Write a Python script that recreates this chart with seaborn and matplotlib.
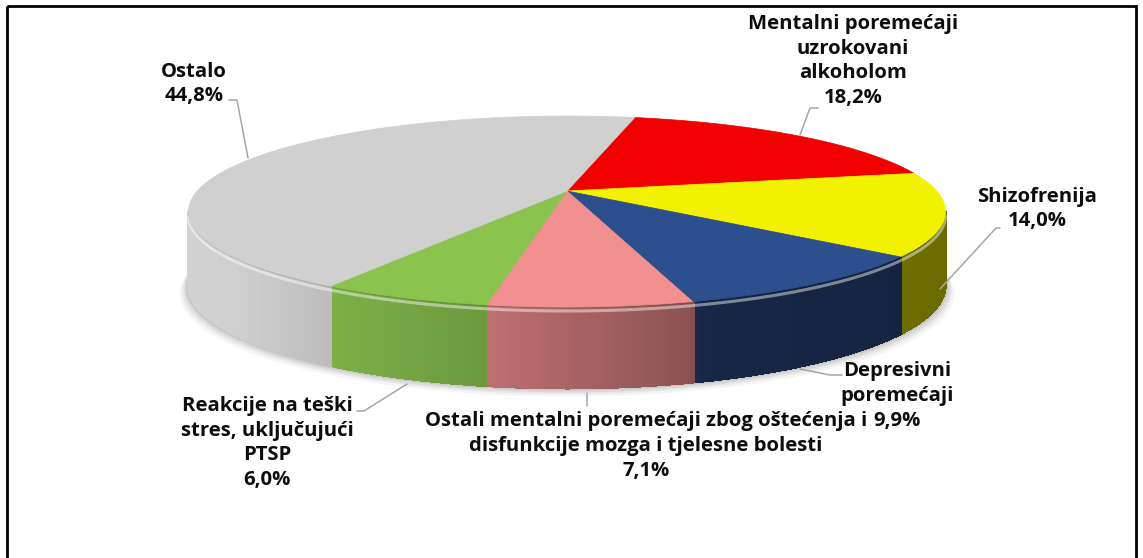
import numpy as np
import matplotlib
matplotlib.use("Agg")
import matplotlib.pyplot as plt
from matplotlib.collections import PolyCollection
from matplotlib.patches import Polygon, Rectangle
import seaborn as sns

# data: slices listed clockwise, starting at the red one
categories = [
    "Mentalni poremećaji\nuzrokovani\nalkoholom",
    "Shizofrenija",
    "Depresivni\nporemećaji",
    "Ostali mentalni poremećaji zbog oštećenja i\ndisfunkcije mozga i tjelesne bolesti",
    "Reakcije na teški\nstres, uključujući\nPTSP",
    "Ostalo",
]
shares = [18.2, 14.0, 9.9, 7.1, 6.0, 44.8]
pct_labels = ["18,2%", "14,0%", "9,9%", "7,1%", "6,0%", "44,8%"]
colors = ["#f20000", "#f2f200", "#2d4f8e", "#f28f8f", "#8bc34f", "#d0d0d0"]

# label placement (pixel coords of the figure) and leader lines
label_pos = [(853, 61), (1037, 209), (897, 396), (646, 446), (267, 443), (194, 84)]
leaders = [
    [(818, 108), (810, 108), (800, 135)],
    [(1000, 228), (996, 228), (940, 289)],
    [(842, 375), (830, 375), (800, 369)],
    [(587, 406), (587, 393)],
    [(357, 411), (364, 411), (407, 384)],
    [(229, 100), (237, 100), (248, 158)],
]

sns.set_theme(style="white")
plt.rcParams["font.family"] = ["Open Sans", "DejaVu Sans"]

W, H = 1143, 558
fig = plt.figure(figsize=(W / 100, H / 100), dpi=100)
ax = fig.add_axes([0, 0, 1, 1])
ax.set_xlim(0, W)
ax.set_ylim(H, 0)
ax.axis("off")

# perspective pie geometry
CX, CY = 567, 191
A, B, K = 369.7, 91.1, 0.2147
DEPTH = 72
START = 12.8


def rim(phi, bottom=False):
    phi = np.radians(phi)
    u, v = np.sin(phi), np.cos(phi)
    w = 1 + K * v
    x = CX + A * u / w
    y = CY - B * v / w
    if bottom:
        y = y + DEPTH / np.sqrt(w)
    return x, y


bounds = START + 360 * np.concatenate([[0], np.cumsum(shares)]) / sum(shares)


def slice_of(phi):
    p = (phi - START) % 360 + START
    return int(np.clip(np.searchsorted(bounds, p) - 1, 0, len(shares) - 1))


# soft shadow under the pie
phis = np.linspace(0, 360, 361)
for off, alpha in [(14, 0.04), (10, 0.05), (7, 0.06), (4, 0.08)]:
    bx, by = rim(phis, bottom=True)
    sx = CX + (bx - CX) * (1 + off / 600)
    ax.add_patch(Polygon(np.c_[sx, by + off * 0.6], closed=True,
                         facecolor="black", edgecolor="none", alpha=alpha, zorder=1))

# side wall, drawn as thin strips with left-to-right shading
sil = np.degrees(np.arctan2(np.sqrt(1 - K ** 2), -K))
wall_phis = np.linspace(sil, 360 - sil, 320)
shade_x = [188, 333, 487, 687, 700, 945]
shade_f = [1.04, 0.9, 0.78, 0.58, 0.5, 0.44]
strips, strip_cols = [], []
for p1, p2 in zip(wall_phis[:-1], wall_phis[1:]):
    x1, y1 = rim(p1)
    x2, y2 = rim(p2)
    x1b, y1b = rim(p1, True)
    x2b, y2b = rim(p2, True)
    strips.append([(x1, y1), (x2, y2), (x2b, y2b), (x1b, y1b)])
    base = np.array(matplotlib.colors.to_rgb(colors[slice_of((p1 + p2) / 2)]))
    f = np.interp((x1 + x2) / 2, shade_x, shade_f)
    c = base * f if f <= 1 else base + (1 - base) * (f - 1)
    strip_cols.append(np.clip(c, 0, 1))
ax.add_collection(PolyCollection(strips, facecolors=strip_cols, edgecolors=strip_cols,
                                 linewidths=1.0, antialiaseds=False, zorder=2))

# bevel highlight along the front rim
hx, hy = rim(wall_phis)
ax.plot(hx, hy + 4, color="white", lw=2.2, alpha=0.45, zorder=3, solid_capstyle="butt")
ax.plot(hx, hy + 1, color="black", lw=1.2, alpha=0.08, zorder=3)

# top surface
for i, share in enumerate(shares):
    arc = np.linspace(bounds[i], bounds[i + 1], 120)
    ax_, ay_ = rim(arc)
    pts = np.vstack([[CX, CY], np.c_[ax_, ay_]])
    ax.add_patch(Polygon(pts, closed=True, facecolor=colors[i], edgecolor=colors[i],
                         lw=0.5, zorder=4))

# leader lines and labels
for pts in leaders:
    xs, ys = zip(*pts)
    ax.plot(xs, ys, color="#a6a6a6", lw=1.1, zorder=5)

for (x, y), name, pct in zip(label_pos, categories, pct_labels):
    ax.text(x, y, name + "\n" + pct, ha="center", va="center", fontsize=14.6,
            fontweight="bold", color="#0d0d0d", linespacing=1.33, zorder=6)

# chart frame
ax.add_patch(Rectangle((7, 6), 1129, 600, fill=False, edgecolor="black", lw=2, zorder=7))

fig.savefig("out.png", dpi=100)
